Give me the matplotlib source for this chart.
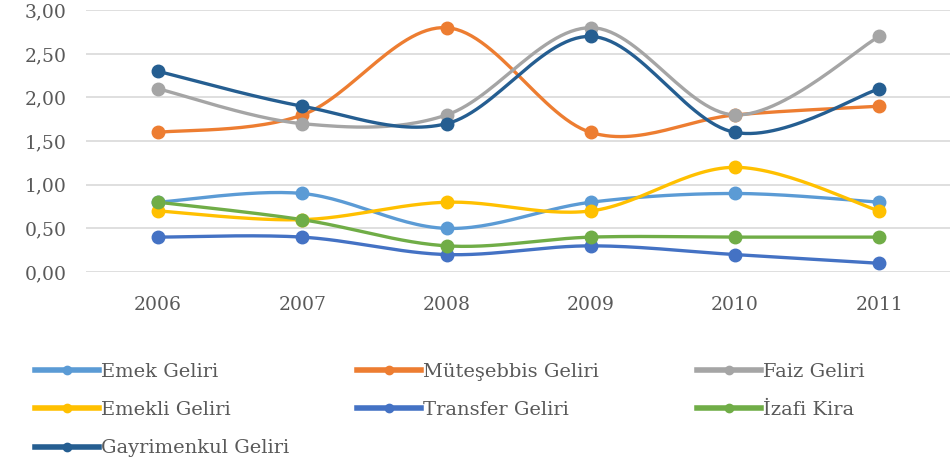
import numpy as np
import matplotlib
matplotlib.use("Agg")
import matplotlib.pyplot as plt
from matplotlib.lines import Line2D

years = [2006, 2007, 2008, 2009, 2010, 2011]
series_names = ["Emek Geliri", "Müteşebbis Geliri", "Faiz Geliri", "Emekli Geliri",
                "Transfer Geliri", "İzafi Kira", "Gayrimenkul Geliri"]
emek = [0.8, 0.9, 0.5, 0.8, 0.9, 0.8]
mutesebbis = [1.6, 1.8, 2.8, 1.6, 1.8, 1.9]
faiz = [2.1, 1.7, 1.8, 2.8, 1.8, 2.7]
emekli = [0.7, 0.6, 0.8, 0.7, 1.2, 0.7]
transfer = [0.4, 0.4, 0.2, 0.3, 0.2, 0.1]
izafi = [0.8, 0.6, 0.3, 0.4, 0.4, 0.4]
gayrimenkul = [2.3, 1.9, 1.7, 2.7, 1.6, 2.1]
colors = ["#5B9BD5", "#ED7D31", "#A5A5A5", "#FFC000", "#4472C4", "#70AD47", "#255E91"]
yticks = [0.0, 0.5, 1.0, 1.5, 2.0, 2.5, 3.0]

FONT = "DejaVu Serif"
TXT = "#595959"


def smooth(x, y, n=30):
    # Excel-like smoothed line: Bezier segments with Catmull-Rom control points
    x = np.asarray(x, float)
    y = np.asarray(y, float)
    px = np.concatenate([[x[0]], x, [x[-1]]])
    py = np.concatenate([[y[0]], y, [y[-1]]])
    xs, ys = [], []
    t = np.linspace(0, 1, n)
    for i in range(len(x) - 1):
        p0 = np.array([px[i], py[i]])
        p1 = np.array([px[i + 1], py[i + 1]])
        p2 = np.array([px[i + 2], py[i + 2]])
        p3 = np.array([px[i + 3], py[i + 3]])
        c1 = p1 + (p2 - p0) / 6
        c2 = p2 - (p3 - p1) / 6
        b = ((1 - t) ** 3)[:, None] * p1 + (3 * (1 - t) ** 2 * t)[:, None] * c1 \
            + (3 * (1 - t) * t ** 2)[:, None] * c2 + (t ** 3)[:, None] * p2
        xs.extend(b[:, 0])
        ys.extend(b[:, 1])
    return xs, ys


fig = plt.figure(figsize=(9.5, 4.65), dpi=100)
ax = fig.add_axes([0.0905, 0.415, 0.911, 0.563])

data = [emek, mutesebbis, faiz, emekli, transfer, izafi, gayrimenkul]
xpos = np.arange(len(years))
handles = []
for name, vals, c in zip(series_names, data, colors):
    sx, sy = smooth(xpos, vals)
    ax.plot(sx, sy, color=c, lw=2.4, solid_capstyle="round", zorder=3)
    ax.plot(xpos, vals, "o", color=c, ms=9, zorder=4)
    handles.append(Line2D([], [], color=c, lw=4, marker="o", ms=6, label=name))

ax.set_xlim(-0.5, len(years) - 0.5)
ax.set_ylim(0, 3.0)
ax.set_yticks(yticks)
ax.set_yticklabels([f"{v:.2f}".replace(".", ",") for v in yticks])
ax.set_xticks(xpos)
ax.set_xticklabels([str(y) for y in years])
ax.grid(axis="y", color="#D9D9D9", lw=1.2)
ax.set_axisbelow(True)
for s in ax.spines.values():
    s.set_visible(False)
ax.tick_params(length=0, labelsize=13.5, colors=TXT)
ax.tick_params(axis="x", pad=17)
ax.tick_params(axis="y", pad=14)
for lab in ax.get_xticklabels() + ax.get_yticklabels():
    lab.set_family(FONT)

# legend: three columns placed at fixed x positions, rows filled left to right
columns = [[0, 3, 6], [1, 4], [2, 5]]
col_x = [35, 357, 697]
for idxs, x0 in zip(columns, col_x):
    leg = fig.legend([handles[i] for i in idxs], [series_names[i] for i in idxs],
                     loc="upper left", bbox_to_anchor=(x0 / 950, 1 - 363 / 465),
                     frameon=False, handlelength=3.3, handletextpad=0.1,
                     borderpad=0, borderaxespad=0, labelspacing=1.04,
                     prop={"family": FONT, "size": 14})
    for t in leg.get_texts():
        t.set_color(TXT)

fig.savefig("out.png", dpi=100)
